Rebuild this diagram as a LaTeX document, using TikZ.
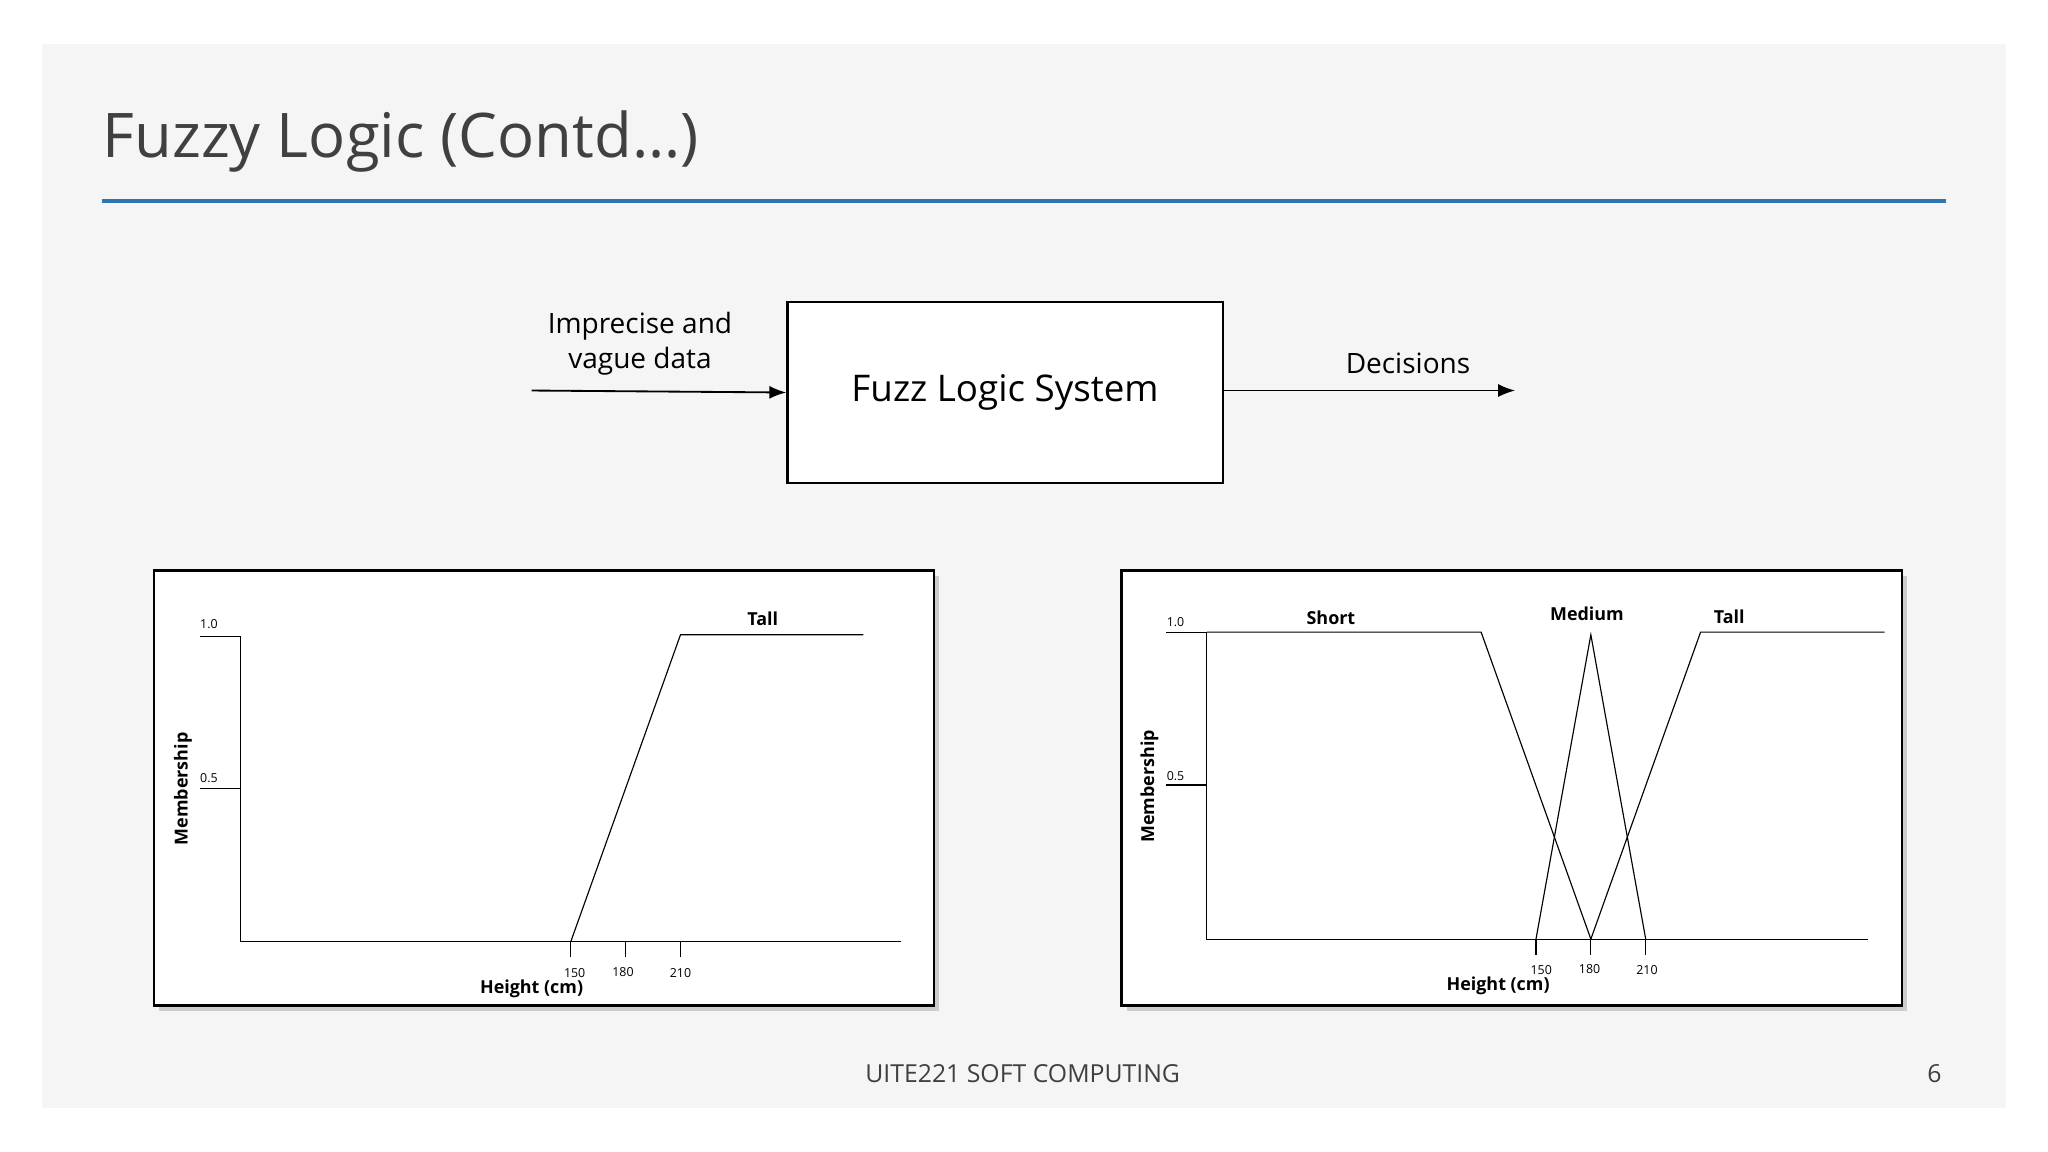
\documentclass[tikz,border=0pt]{standalone}
\usepackage{fontspec}
\setmainfont{Open Sans}
\usetikzlibrary{arrows.meta,shadows}
\definecolor{slidebg}{HTML}{F5F5F5}
\definecolor{rule}{HTML}{2E75B6}
\definecolor{titlec}{HTML}{404040}
\tikzset{
  px/.style={x=0.01cm,y=-0.01cm},
  chart/.style={draw=black,line width=0.6pt,fill=white,drop shadow={shadow xshift=0.04cm,shadow yshift=-0.04cm,opacity=0.35}},
  curve/.style={line width=0.25pt},
  tick/.style={font=\fontsize{2.7}{3}\selectfont,inner sep=0pt},
  lbl/.style={font=\bfseries\fontsize{3.9}{5}\selectfont,inner sep=0pt},
  flow/.style={-{Latex[length=1.3mm,width=1.0mm]},line width=0.4pt}
}
\begin{document}
\begin{tikzpicture}[px]
\useasboundingbox (0,0) rectangle (1568,882);
\fill[white] (0,0) rectangle (1568,882);
\fill[slidebg] (32,34) rectangle (1536,848);
\node[anchor=west,text=titlec,font=\fontsize{13.4}{16}\selectfont,inner sep=0pt] (title) at (78,108) {Fuzzy Logic (Contd…)};
\draw[rule,line width=0.85pt] (78,154) -- (1490,154);
% flow
\node[draw,line width=0.5pt,fill=white,minimum width=3.33cm,minimum height=1.39cm,font=\fontsize{8.0}{10}\selectfont] (fls) at (769.5,300.5) {Fuzz Logic System};
\coordinate (in) at (407,299);
\coordinate (out) at (1160,299);
\draw[flow] (in) -- (fls.west);
\draw[flow] (fls.east |- out) -- (out);
\node[align=center,font=\fontsize{6.1}{7.6}\selectfont] (inl) at (490,263) {Imprecise and\\vague data};
\node[font=\fontsize{6.1}{8}\selectfont] (outl) at (1078,278) {Decisions};
% left chart
\node[chart,minimum width=5.97cm,minimum height=3.33cm,inner sep=0pt] (c1) at (416.5,603.5) {};
\draw[curve] (153,487) -- (184,487) -- (184,721) -- (690,721);
\draw[curve] (153,604) -- (184,604);
\draw[curve] (437,721) -- (521,486) -- (661,486);
\foreach \x in {437,479,521} \draw[curve] (\x,721) -- (\x,733);
\node[tick] at (160,478) {1.0};
\node[tick] at (160,596) {0.5};
\node[lbl,rotate=90] at (140,604) {Membership};
\node[tick] at (440,745) {150};
\node[tick] at (477,744) {180};
\node[tick] at (521,745) {210};
\node[lbl] at (407,757) {Height (cm)};
\node[lbl] at (584,474) {Tall};
% right chart
\node[chart,minimum width=5.97cm,minimum height=3.33cm,inner sep=0pt] (c2) at (1157.5,603.5) {};
\draw[curve] (893,484) -- (924,484) -- (924,719) -- (1430,719);
\draw[curve] (893,601) -- (924,601);
\draw[curve] (924,484) -- (1134,484) -- (1218,719);
\draw[curve] (1176,719) -- (1218,486) -- (1260,719);
\draw[curve] (1218,719) -- (1302,484) -- (1443,484);
\foreach \x in {1176,1218,1260} \draw[curve] (\x,719) -- (\x,731);
\node[tick] at (900,476) {1.0};
\node[tick] at (900,594) {0.5};
\node[lbl,rotate=90] at (880,602) {Membership};
\node[tick] at (1180,743) {150};
\node[tick] at (1217,742) {180};
\node[tick] at (1261,743) {210};
\node[lbl] at (1147,755) {Height (cm)};
\node[lbl] at (1019,473) {Short};
\node[lbl] at (1215,470) {Medium};
\node[lbl] at (1324,472) {Tall};
% footer
\node[text=titlec,font=\fontsize{5.4}{6}\selectfont] (foot) at (783,822) {UITE221 SOFT COMPUTING};
\node[text=titlec,font=\fontsize{5.4}{6}\selectfont] (pg) at (1481,822) {6};
\end{tikzpicture}
\end{document}
